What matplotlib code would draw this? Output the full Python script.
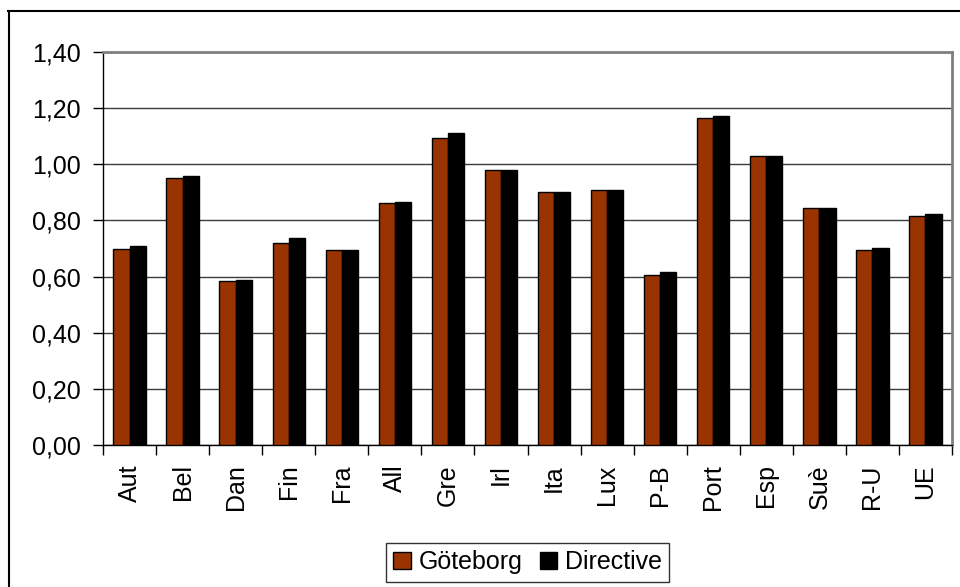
import matplotlib.pyplot as plt
from matplotlib.lines import Line2D
from matplotlib.ticker import FuncFormatter, MultipleLocator
import numpy as np

plt.rcParams['font.family'] = ['Liberation Sans', 'DejaVu Sans']

# countries and index values for the two scenarios
pays = ["Aut", "Bel", "Dan", "Fin", "Fra", "All", "Gre", "Irl", "Ita", "Lux",
        "P-B", "Port", "Esp", "Suè", "R-U", "UE"]
goteborg = [0.70, 0.95, 0.586, 0.721, 0.693, 0.863, 1.094, 0.980, 0.900, 0.908,
            0.607, 1.165, 1.030, 0.844, 0.693, 0.814]
directive = [0.708, 0.958, 0.587, 0.737, 0.693, 0.867, 1.110, 0.980, 0.900, 0.908,
             0.617, 1.173, 1.030, 0.844, 0.701, 0.822]

fig = plt.figure(figsize=(9.6, 5.87), dpi=100)
ax = fig.add_axes([103/960, 1 - 445/587, (952 - 103)/960, (445 - 52)/587])

x = np.arange(len(pays))
w = 0.305
ax.bar(x - w/2, goteborg, w, color="#993300", edgecolor="black", linewidth=1,
       label="Göteborg", zorder=3)
ax.bar(x + w/2, directive, w, color="black", edgecolor="black", linewidth=1,
       label="Directive", zorder=3)

ax.set_xlim(-0.5, len(pays) - 0.5)
ax.set_ylim(0, 1.4)
ax.yaxis.set_major_locator(MultipleLocator(0.2))
ax.yaxis.set_major_formatter(FuncFormatter(lambda v, p: f"{v:.2f}".replace(".", ",")))
ax.grid(axis="y", color="#3c3c3c", linewidth=1, zorder=0)

ax.set_xticks(x)
ax.set_xticklabels(pays, rotation=90)
ax.set_xticks(np.arange(len(pays) + 1) - 0.5, minor=True)
ax.tick_params(axis="x", which="major", length=0, pad=14, labelsize=18)
ax.tick_params(axis="x", which="minor", length=7, width=1, direction="out")
ax.tick_params(axis="y", length=7, width=1, pad=9, labelsize=18)

for s in ["left", "bottom"]:
    ax.spines[s].set_color("black")
    ax.spines[s].set_linewidth(1)
for s in ["top", "right"]:
    ax.spines[s].set_color("#808080")
    ax.spines[s].set_linewidth(2)

# outer chart frame (left and top edges)
fig.lines.append(Line2D([8.5/960, 8.5/960], [0, 1 - 11/587], transform=fig.transFigure,
                        color="black", linewidth=1.5))
fig.lines.append(Line2D([8/960, 1], [1 - 11/587, 1 - 11/587], transform=fig.transFigure,
                        color="black", linewidth=1.5))

leg = fig.legend(loc="center", bbox_to_anchor=(527.5/960, 1 - 562/587), ncol=2,
                 fontsize=18, frameon=True, fancybox=False, edgecolor="black",
                 handlelength=0.7, handleheight=0.7, handletextpad=0.3,
                 columnspacing=0.7, borderpad=0.3, borderaxespad=0)
leg.get_frame().set_linewidth(1)

fig.savefig("out.png", dpi=100)
